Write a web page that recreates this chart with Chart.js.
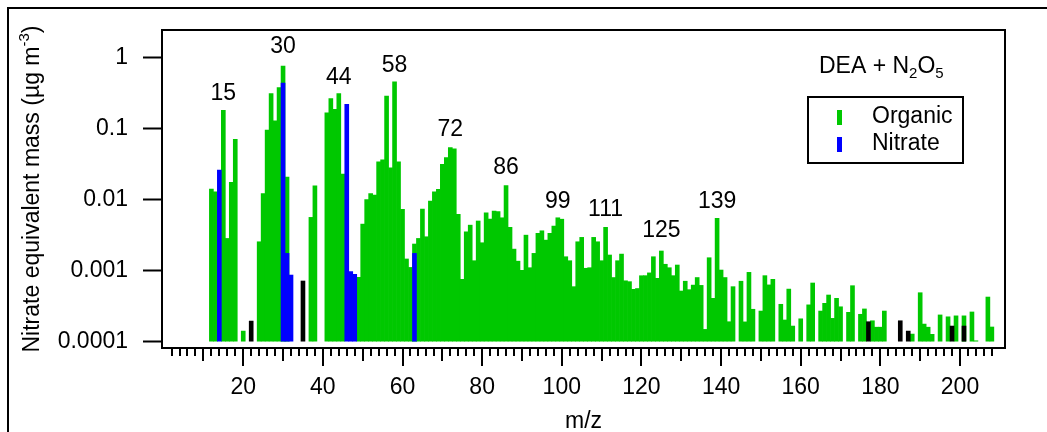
<!DOCTYPE html>
<html>
<head>
<meta charset="utf-8">
<title>DEA + N2O5 mass spectrum</title>
<script src="https://cdn.jsdelivr.net/npm/chart.js@4"></script>
<style>
  html, body { margin: 0; padding: 0; background: #fff; }
  canvas { display: block; }
</style>
</head>
<body>
<canvas id="spectrum" width="1047" height="432"></canvas>
<script>
// nitrate equivalent mass (ug m-3) per m/z, split by ion family
const organicMz = [
  12, 13, 15, 16, 17, 18, 20, 24, 25, 26,
  27, 28, 29, 30, 31, 37, 38, 41, 42, 43,
  44, 45, 49, 50, 51, 52, 53, 54, 55, 56,
  57, 58, 59, 60, 61, 62, 63, 64, 65, 66,
  67, 68, 69, 70, 71, 72, 73, 74, 75, 76,
  77, 78, 79, 80, 81, 82, 83, 84, 85, 86,
  87, 88, 89, 90, 91, 92, 93, 94, 95, 96,
  97, 98, 99, 100, 101, 102, 103, 104, 105, 106,
  107, 108, 109, 110, 111, 112, 113, 114, 115, 116,
  117, 118, 119, 120, 121, 122, 123, 124, 125, 126,
  127, 128, 129, 130, 131, 132, 133, 134, 135, 136,
  137, 138, 139, 140, 141, 142, 143, 145, 146, 147,
  148, 150, 151, 152, 153, 155, 156, 157, 158, 160,
  162, 163, 165, 166, 167, 168, 169, 170, 172, 173,
  175, 176, 178, 179, 180, 181, 188, 190, 191, 192,
  193, 195, 197, 199, 201, 203, 204, 207, 208
];
const organicMass = [
  0.0141, 0.0129, 0.18, 0.00284, 0.0175, 0.0703, 0.000141, 0.00255, 0.0122, 0.095,
  0.312, 0.128, 0.378, 0.755, 0.0207, 0.00562, 0.0156, 0.166, 0.265, 0.186,
  0.312, 0.0229, 0.000805, 0.00452, 0.0100, 0.0122, 0.0116, 0.034, 0.0363, 0.286,
  0.028, 0.454, 0.034, 0.0073, 0.00146, 0.00111, 0.00237, 0.00284, 0.00735, 0.0030,
  0.00953, 0.0129, 0.0139, 0.0313, 0.039, 0.0542, 0.052, 0.0062, 0.000755, 0.00352,
  0.00437, 0.00138, 0.0050, 0.00247, 0.00652, 0.00532, 0.00689, 0.0068, 0.00555, 0.0158,
  0.00407, 0.00201, 0.00136, 0.00101, 0.00316, 0.0011, 0.00175, 0.00335, 0.00364, 0.00269,
  0.00335, 0.00424, 0.00555, 0.0053, 0.00157, 0.00138, 0.000595, 0.00255, 0.00294, 0.00108,
  0.0011, 0.00294, 0.00255, 0.00138, 0.00407, 0.00166, 0.0008, 0.00138, 0.00171, 0.00072,
  0.0007, 0.000546, 0.00056, 0.000848, 0.00085, 0.00093, 0.00157, 0.00078, 0.00189, 0.00123,
  0.0011, 0.00085, 0.0012, 0.000517, 0.00071, 0.00054, 0.000626, 0.0008, 0.00062, 0.000149,
  0.00152, 0.000408, 0.00545, 0.00102, 0.0008, 0.000191, 0.000595, 0.00071, 0.00019, 0.000946,
  0.000286, 0.00027, 0.00085, 0.00063, 0.000755, 0.000336, 0.000202, 0.00055, 0.000166, 0.00021,
  0.00033, 0.00067, 0.00027, 0.000347, 0.000454, 0.000213, 0.000408, 0.00031, 0.000259, 0.000614,
  0.000243, 0.000289, 0.000197, 0.00016, 0.00016, 0.00027, 0.000128, 0.000489, 0.000177, 0.00016,
  0.000127, 0.000238, 0.000224, 0.000231, 0.000231, 0.000262, 0.000103, 0.000425, 0.000161
];

const nitrateMz = [14, 30, 31, 32, 46, 47, 48, 63];
const nitrateMass = [0.026, 0.435, 0.00175, 0.000867, 0.22, 0.00097, 0.000887, 0.00175];

// unassigned ions, drawn black and left out of the legend
const otherMz = [22, 35, 177, 185, 187, 198, 201];
const otherMass = [0.000195, 0.000715, 0.000191, 0.000197, 0.000141, 0.000166, 0.000166];

// labelled peaks and the height their label sits at
const peakMz = [15, 30, 44, 58, 72, 86, 99, 111, 125, 139];
const peakLabelAt = [0.315, 1.4, 0.528, 0.78, 0.095, 0.0286, 0.0095, 0.0073, 0.0036, 0.0095];

const yTicks = [0.0001, 0.001, 0.01, 0.1, 1];

const FONT = '"Liberation Sans", Arial, Helvetica, sans-serif';
const FSIZE = 23;
const GREEN = '#00c800';
const BLUE = '#0000ff';

function toPoints(mz, mass) {
    return mz.map((m, i) => ({ x: m, y: mass[i] }));
}

// draws a row of text runs (for sub/superscripts), returns the width
function drawRuns(ctx, runs, x, y, measureOnly) {
    let cx = x;
    runs.forEach(r => {
        ctx.font = r.size + 'px ' + FONT;
        if (!measureOnly) ctx.fillText(r.text, cx, y + (r.dy || 0));
        cx += ctx.measureText(r.text).width;
    });
    return cx - x;
}

const decor = {
    id: 'decor',
    afterDraw(chart) {
        const { ctx, chartArea: area, scales } = chart;
        const xs = scales.x, ys = scales.y;
        ctx.save();
        ctx.strokeStyle = '#000';
        ctx.fillStyle = '#000';
        ctx.lineWidth = 2;

        // page frame
        ctx.beginPath();
        ctx.moveTo(8, 432);
        ctx.lineTo(8, 8);
        ctx.lineTo(1047, 8);
        ctx.stroke();

        // top and right sides of the plot box
        ctx.beginPath();
        ctx.moveTo(area.left - 1, area.top);
        ctx.lineTo(area.right, area.top);
        ctx.lineTo(area.right, area.bottom + 1);
        ctx.stroke();

        // x tick marks: short every 2, longer at 10 and 20
        ctx.beginPath();
        xs.ticks.forEach(t => {
            const v = t.value;
            if (v <= 0 || Math.abs(v - Math.round(v)) > 1e-6) return;
            const len = v % 20 === 0 ? 18 : (v % 10 === 0 ? 13 : 8);
            const px = Math.round(xs.getPixelForValue(v));
            ctx.moveTo(px, area.bottom);
            ctx.lineTo(px, area.bottom + len);
        });
        ctx.stroke();

        // peak labels
        ctx.font = FSIZE + 'px ' + FONT;
        ctx.textAlign = 'center';
        ctx.textBaseline = 'middle';
        peakMz.forEach((m, i) => {
            ctx.fillText(String(m), xs.getPixelForValue(m), ys.getPixelForValue(peakLabelAt[i]));
        });

        // x axis title
        ctx.fillText('m/z', (area.left + area.right) / 2, 422);

        // y axis title, rotated, with superscript
        ctx.textAlign = 'left';
        ctx.textBaseline = 'alphabetic';
        const yRuns = [
            { text: 'Nitrate equivalent mass (\u00b5g m', size: FSIZE },
            { text: '-3', size: 15, dy: -10 },
            { text: ')', size: FSIZE }
        ];
        const yw = drawRuns(ctx, yRuns, 0, 0, true);
        ctx.save();
        ctx.translate(39, (area.top + area.bottom) / 2);
        ctx.rotate(-Math.PI / 2);
        drawRuns(ctx, yRuns, -yw / 2, 0);
        ctx.restore();

        // title
        drawRuns(ctx, [
            { text: 'DEA + N', size: FSIZE },
            { text: '2', size: 15, dy: 5 },
            { text: 'O', size: FSIZE },
            { text: '5', size: 15, dy: 5 }
        ], 819, 73);

        // legend box
        ctx.strokeRect(808, 97, 155, 66);
        const entries = chart.data.datasets.filter(d => d.label);
        entries.forEach((d, i) => {
            const cy = 117 + i * 27;
            ctx.fillStyle = d.backgroundColor;
            ctx.fillRect(837, cy - 7, 5, 15);
            ctx.fillStyle = '#000';
            ctx.font = FSIZE + 'px ' + FONT;
            ctx.textBaseline = 'middle';
            ctx.fillText(d.label, 872, cy);
        });
        ctx.restore();
    }
};

const barCommon = {
    base: 0.0001,
    grouped: false,
    barPercentage: 1,
    categoryPercentage: 1,
    borderWidth: 0
};

const chart = new Chart(document.getElementById('spectrum'), {
    type: 'bar',
    data: {
        datasets: [
            Object.assign({ label: 'Organic', data: toPoints(organicMz, organicMass), backgroundColor: GREEN, order: 3 }, barCommon),
            Object.assign({ label: 'Nitrate', data: toPoints(nitrateMz, nitrateMass), backgroundColor: BLUE, order: 2 }, barCommon),
            Object.assign({ label: '', data: toPoints(otherMz, otherMass), backgroundColor: '#000', order: 1 }, barCommon)
        ]
    },
    options: {
        responsive: false,
        devicePixelRatio: 1,
        animation: false,
        layout: { padding: { top: 30, right: 42, left: 0, bottom: 0 } },
        plugins: {
            legend: { display: false },
            tooltip: { enabled: false }
        },
        scales: {
            x: {
                type: 'linear',
                min: -0.4,
                max: 211.3,
                offset: false,
                grid: { display: false, drawTicks: false },
                border: { display: true, color: '#000', width: 2 },
                ticks: {
                    stepSize: 2,
                    autoSkip: false,
                    maxRotation: 0,
                    padding: 26,
                    color: '#000',
                    font: { family: FONT, size: FSIZE },
                    callback: v => (v > 0 && v % 20 === 0) ? String(v) : ''
                },
                afterFit: s => { s.height = 84; }
            },
            y: {
                type: 'logarithmic',
                min: 0.0000815,
                max: 2.44,
                afterBuildTicks: s => { s.ticks = yTicks.map(v => ({ value: v })); },
                grid: { drawOnChartArea: false, drawTicks: true, tickLength: 19, tickWidth: 2, tickColor: '#000' },
                border: { display: true, color: '#000', width: 2 },
                ticks: {
                    padding: 15,
                    color: '#000',
                    font: { family: FONT, size: FSIZE },
                    callback: v => String(v)
                },
                afterFit: s => { s.width = 162; }
            }
        }
    },
    plugins: [decor]
});
</script>
</body>
</html>
